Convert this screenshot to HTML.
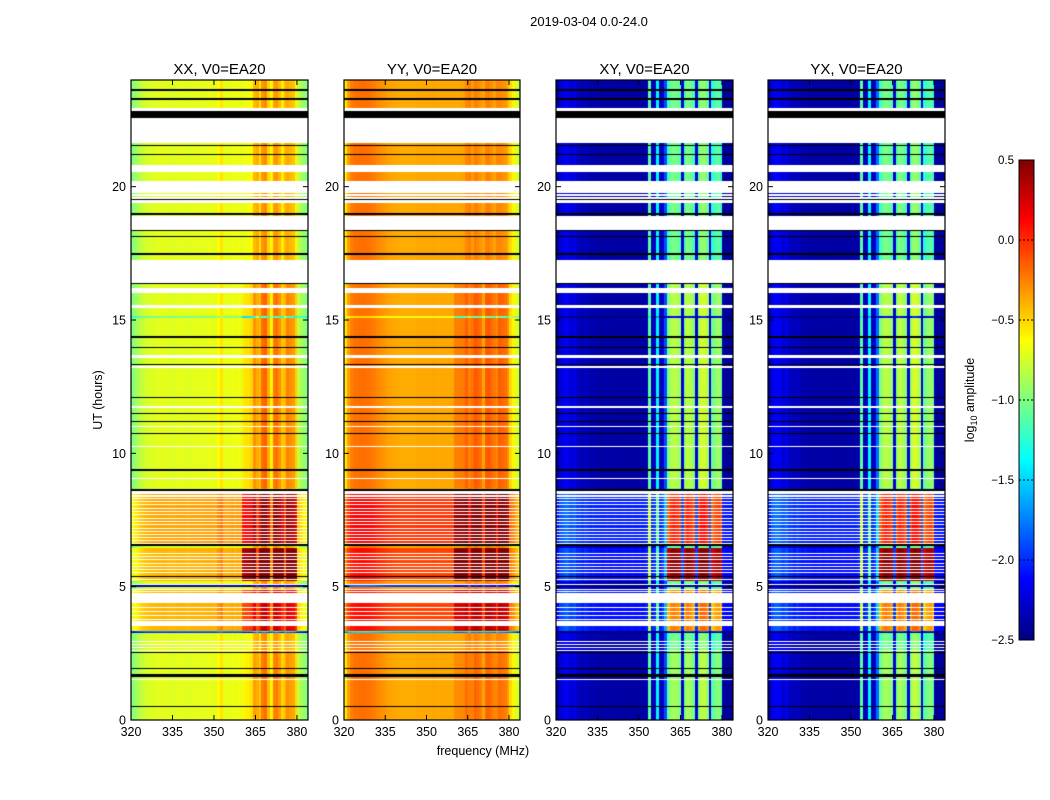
<!DOCTYPE html>
<html><head><meta charset="utf-8"><style>
body{margin:0;background:#fff;width:1050px;height:800px;overflow:hidden;position:relative;font-family:"Liberation Sans",sans-serif}
canvas{position:absolute}
svg{position:absolute;left:0;top:0}
</style></head><body>
<canvas id="c0" style="left:131px;top:80px" width="177" height="640"></canvas>
<canvas id="c1" style="left:344px;top:80px" width="176" height="640"></canvas>
<canvas id="c2" style="left:556px;top:80px" width="177" height="640"></canvas>
<canvas id="c3" style="left:768px;top:80px" width="177" height="640"></canvas>
<canvas id="cb" style="left:1019px;top:160px" width="15" height="480"></canvas>
<svg id="ov" width="1050" height="800"></svg>
<script>
// ---- data ----
const panelNames = ["XX, V0=EA20","YY, V0=EA20","XY, V0=EA20","YX, V0=EA20"];
const freqTicks = [320,335,350,365,380];
const timeTicks = [0,5,10,15,20];
const cbTicks = [0.5,0.0,-0.5,-1.0,-1.5,-2.0,-2.5];
// log10 amplitude per 1 MHz bin, 320..383 MHz
const profXX = [-1.0,-0.92,-0.86,-0.8,-0.77,-0.75,-0.73,-0.72,-0.72,-0.71,-0.71,-0.7,-0.7,-0.71,-0.72,-0.72,-0.7,-0.7,-0.7,-0.71,-0.72,-0.7,-0.7,-0.7,-0.7,-0.7,-0.7,-0.69,-0.69,-0.7,-0.7,-0.62,-0.55,-0.69,-0.69,-0.69,-0.66,-0.69,-0.66,-0.69,-0.69,-0.66,-0.66,-0.62,-0.42,-0.38,-0.55,-0.32,-0.28,-0.5,-0.6,-0.35,-0.32,-0.42,-0.58,-0.42,-0.38,-0.42,-0.45,-0.6,-0.8,-0.88,-0.95,-1.02];
const profYY = [-0.55,-0.35,-0.25,-0.22,-0.21,-0.2,-0.2,-0.2,-0.21,-0.22,-0.24,-0.26,-0.28,-0.3,-0.32,-0.34,-0.35,-0.36,-0.37,-0.37,-0.38,-0.38,-0.38,-0.38,-0.38,-0.38,-0.37,-0.37,-0.37,-0.37,-0.37,-0.37,-0.36,-0.37,-0.37,-0.37,-0.37,-0.37,-0.37,-0.37,-0.37,-0.37,-0.36,-0.35,-0.28,-0.25,-0.33,-0.25,-0.27,-0.32,-0.36,-0.27,-0.25,-0.3,-0.35,-0.27,-0.27,-0.3,-0.32,-0.4,-0.52,-0.6,-0.72,-0.82];
const profXY = [-2.4,-2.25,-2.2,-2.15,-2.2,-2.25,-2.2,-2.3,-2.3,-2.35,-2.3,-2.35,-2.38,-2.35,-2.38,-2.38,-2.4,-2.38,-2.38,-2.4,-2.38,-2.38,-2.4,-2.4,-2.38,-2.4,-2.4,-2.38,-2.4,-2.4,-2.38,-2.4,-2.35,-1.1,-2.35,-2.3,-1.4,-2.35,-2.25,-1.9,-1.2,-1.05,-1.0,-1.05,-1.1,-2.25,-1.15,-1.0,-1.05,-1.15,-2.25,-1.1,-0.95,-0.95,-1.05,-2.2,-1.25,-1.15,-1.1,-1.2,-2.4,-2.42,-2.42,-2.45];
const profYX = [-2.4,-2.2,-2.15,-2.15,-2.2,-2.25,-2.2,-2.3,-2.3,-2.35,-2.3,-2.35,-2.38,-2.35,-2.38,-2.38,-2.4,-2.38,-2.38,-2.4,-2.38,-2.38,-2.4,-2.4,-2.38,-2.4,-2.4,-2.38,-2.4,-2.4,-2.38,-2.4,-2.35,-1.1,-2.35,-2.3,-1.4,-2.35,-2.25,-1.8,-1.2,-1.05,-1.0,-1.05,-1.1,-2.25,-1.15,-1.0,-1.05,-1.15,-2.25,-1.1,-0.95,-0.95,-1.05,-2.2,-1.25,-1.15,-1.1,-1.2,-2.4,-2.42,-2.42,-2.45];
// active-band weight (1 MHz bins 320..383)
const active = [0,0,0,0,0,0,0,0,0,0,0,0,0,0,0,0,0,0,0,0,0,0,0,0,0,0,0,0,0,0,0,0,0,0,0,0,0,0,0,0,1,1,1,1,1,0,1,1,1,1,0,1,1,1,1,0,1,1,1,1,0,0,0,0];
// per-panel scale of active boost
const boostScale = [1,1,1.6,1.6];
// flagged (white) time ranges in hours [start,end]
const whiteRanges = [[23.25,23.33],[22.84,22.95],[21.64,22.58],[20.55,20.81],[19.76,20.21],[19.65,19.73],[19.39,19.61],[18.38,18.9],[16.39,17.25],[16.01,16.2],[15.45,15.56],[13.58,13.69],[13.2,13.28],[11.7,11.78],[10.99,11.03],[10.24,10.28],[9.04,9.08],[8.48,8.66],
 [8.38,8.42],[8.27,8.31],[8.16,8.2],[8.05,8.09],[7.9,7.95],[7.79,7.84],[7.68,7.72],[7.53,7.58],[7.42,7.46],[7.31,7.35],[7.16,7.2],[7.05,7.09],[6.94,6.98],[6.83,6.86],[6.71,6.75],[6.6,6.64],
 [6.23,6.27],[6.11,6.15],[6.0,6.04],[5.85,5.89],[5.74,5.78],[5.63,5.67],[5.51,5.55],[5.25,5.3],[5.06,5.1],[4.88,4.93],[4.8,4.84],[4.39,4.78],
 [4.2,4.24],[4.05,4.09],[3.9,3.94],[3.75,3.79],[3.53,3.72],[2.93,2.98],[2.81,2.85],[2.7,2.74],[2.59,2.63],[1.5,1.55]];
// flagged (black) time ranges in hours
const blackRanges = [[23.6,23.66],[23.25,23.31],[22.58,22.84],[21.52,21.56],[21.19,21.23],[19.5,19.53],[18.94,19.0],[18.34,18.38],[18.12,18.16],[17.44,17.5],[16.35,16.39],[14.32,14.39],[13.95,13.99],[13.31,13.35],[12.08,12.12],[11.46,11.5],[11.16,11.2],[10.74,10.78],[9.34,9.42],[8.6,8.66],[6.53,6.6],[5.36,5.4],[2.51,2.55],[1.9,1.94],[1.62,1.72],[0.49,0.53]];
// row offsets [start,end,allOffset,activeBoost]
const rowOffsets = [[6.6,8.48,0.35,0.45],[5.2,6.45,0.3,0.75],[3.3,4.9,0.3,0.3],[8.7,16.4,0.0,0.12],[0,2.6,0.0,0.08],[4.98,5.06,-1.6,-0.2],[3.26,3.34,-1.3,-0.2],[15.08,15.14,-0.3,-0.6]];
const profiles = [profXX,profYY,profXY,profYX];

// ---- scales ----
const vmin=-2.5, vmax=0.5;
const H=640, y0=80;
function yOf(h){return y0+H-h*(H/24);}
const pX=[131,344,556,768], pW=[177,176,177,177];
function xOf(p,f){return pX[p]+(f-320)*pW[p]/64;}
function jet(v){
  let t=(v-vmin)/(vmax-vmin); t=Math.max(0,Math.min(1,t));
  const r=Math.min(4*t-1.5,-4*t+4.5), g=Math.min(4*t-0.5,-4*t+3.5), b=Math.min(4*t+0.5,-4*t+2.5);
  const c=x=>Math.round(255*Math.max(0,Math.min(1,x)));
  return [c(r),c(g),c(b)];
}
function inR(list,h){for(const r of list){if(h>=r[0]&&h<=r[1])return true;}return false;}
for(let p=0;p<4;p++){
  const cv=document.getElementById('c'+p), ctx=cv.getContext('2d');
  const img=ctx.createImageData(cv.width,H);
  const prof=profiles[p];
  for(let y=0;y<H;y++){
    const h=(H-y-0.5)*24/H;
    let col=null;
    if(inR(blackRanges,h)) col=[0,0,0];
    else if(inR(whiteRanges,h)) col=[255,255,255];
    let off=0,boost=0;
    for(const r of rowOffsets){if(h>=r[0]&&h<=r[1]){off+=r[2];boost+=r[3];}}
    for(let x=0;x<cv.width;x++){
      const fi=Math.min(63,Math.floor(x*64/cv.width));
      const c=col||jet(prof[fi]+off+boost*boostScale[p]*active[fi]);
      const i=(y*cv.width+x)*4;
      img.data[i]=c[0];img.data[i+1]=c[1];img.data[i+2]=c[2];img.data[i+3]=255;
    }
  }
  ctx.putImageData(img,0,0);
}
// colorbar
{
  const cv=document.getElementById('cb'),ctx=cv.getContext('2d');
  for(let y=0;y<480;y++){const c=jet(vmax-(y+0.5)*(vmax-vmin)/480);ctx.fillStyle=`rgb(${c})`;ctx.fillRect(0,y,15,1);}
}
// ---- axes overlay ----
const NS='http://www.w3.org/2000/svg', svg=document.getElementById('ov');
function el(tag,attrs,txt){const e=document.createElementNS(NS,tag);for(const k in attrs)e.setAttribute(k,attrs[k]);if(txt!==undefined)e.textContent=txt;svg.appendChild(e);return e;}
for(let p=0;p<4;p++){
  const fr=el('rect',{x:pX[p],y:y0,width:pW[p],height:H,fill:'none',stroke:'#000','stroke-width':1.2});
  
  
  const t=el('text',{x:pX[p]+pW[p]/2,y:74,'font-size':15,'text-anchor':'middle'},panelNames[p]);
  
  
  for(const f of freqTicks){
    const x=xOf(p,f);
    el('line',{x1:x,x2:x,y1:y0+H,y2:y0+H-5,stroke:'#000'});
    el('line',{x1:x,x2:x,y1:y0,y2:y0+5,stroke:'#000'});
    const tl=el('text',{x:x,y:736,'font-size':12.5,'text-anchor':'middle'},String(f));
    
    
  }
  for(const h of timeTicks){
    const y=yOf(h);
    el('line',{x1:pX[p],x2:pX[p]+5,y1:y,y2:y,stroke:'#000'});
    el('line',{x1:pX[p]+pW[p],x2:pX[p]+pW[p]-5,y1:y,y2:y,stroke:'#000'});
    const tl=el('text',{x:pX[p]-5,y:y+4.5,'font-size':12.5,'text-anchor':'end'},String(h));
    
    
  }
}
const st=el('text',{x:589,y:26,'font-size':13,'text-anchor':'middle'},'2019-03-04 0.0-24.0');


const yl=el('text',{x:102,y:400,'font-size':12.5,'text-anchor':'middle',transform:'rotate(-90 102 400)'},'UT (hours)');


const xl=el('text',{x:483,y:755,'font-size':12.5,'text-anchor':'middle'},'frequency (MHz)');


const cf=el('rect',{x:1019,y:160,width:15,height:480,fill:'none',stroke:'#000'});


for(const v of cbTicks){
  const y=160+(vmax-v)*480/(vmax-vmin);
  el('line',{x1:1019,x2:1034,y1:y,y2:y,stroke:'#000','stroke-dasharray':'2,2'});
  const tl=el('text',{x:1014,y:y+4,'font-size':11.5,'text-anchor':'end'},(v<0?'\u2212':'')+Math.abs(v).toFixed(1));
  
  
}
const cl=el('text',{x:974,y:400,'font-size':12.5,'text-anchor':'middle',transform:'rotate(-90 974 400)'});


cl.innerHTML='log<tspan font-size="9" dy="3">10</tspan><tspan dy="-3"> amplitude</tspan>';
</script>
</body></html>
